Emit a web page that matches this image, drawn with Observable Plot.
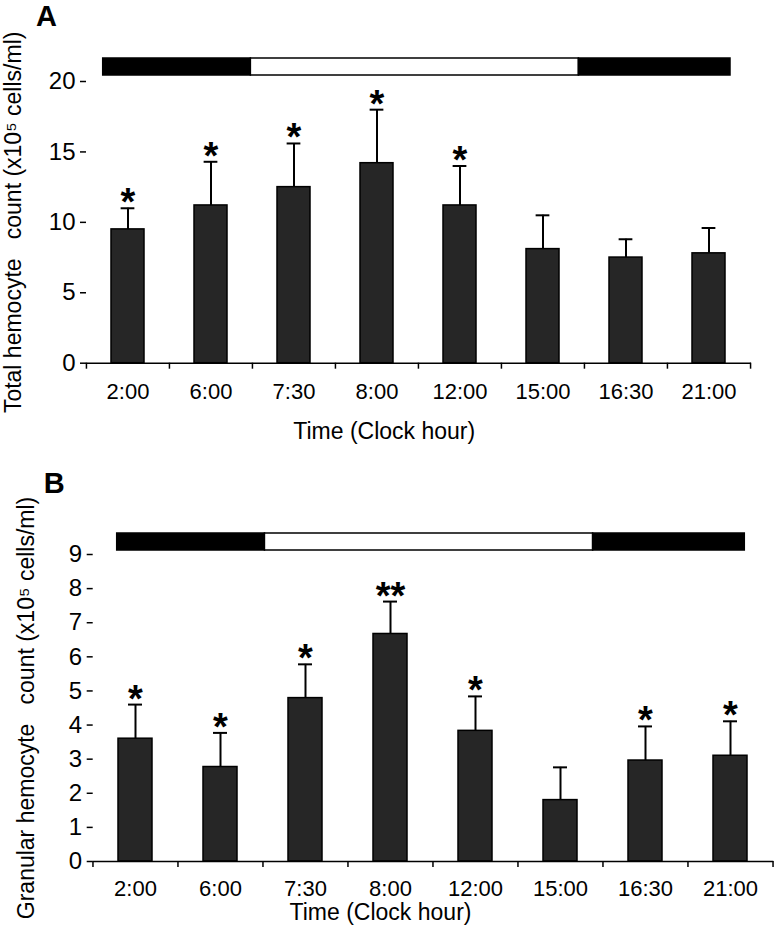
<!DOCTYPE html>
<html><head><meta charset="utf-8">
<script src="https://cdn.jsdelivr.net/npm/d3@7"></script>
<script src="https://cdn.jsdelivr.net/npm/@observablehq/plot@0.6"></script>
<style>
body{margin:0;background:#fff;}
#fig{position:relative;width:774px;height:941px;overflow:hidden;background:#fff;}
#fig > svg{position:absolute;left:0;}
</style></head><body><div id="fig"></div>
<script>
const times = ["2:00","6:00","7:30","8:00","12:00","15:00","16:30","21:00"];
const totalMean  = [9.5, 11.2, 12.5, 14.2, 11.2, 8.1, 7.5, 7.8];
const totalUpper = [11.0, 14.3, 15.6, 18.0, 14.0, 10.5, 8.8, 9.6];
const totalSig   = ["*","*","*","*","*","","",""];
const granMean   = [3.6, 2.77, 4.79, 6.67, 3.83, 1.8, 2.96, 3.1];
const granUpper  = [4.6, 3.77, 5.78, 7.62, 4.84, 2.76, 3.96, 4.11];
const granSig    = ["*","*","*","**","*","","*","*"];
const yTicksTotal = [0,5,10,15,20];
const yTicksGran  = [0,1,2,3,4,5,6,7,8,9];
const photoperiod = [
  {phase:"dark",  start:0,    end:5.65},
  {phase:"light", start:5.65, end:18.2},
  {phase:"dark",  start:18.2, end:24}
];
const xTitle = "Time (Clock hour)";
const yLabelTotal = "Total hemocyte\u00a0\u00a0 count (x10\u2075 cells/ml)";
const yLabelGran  = "Granular hemocyte\u00a0\u00a0 count (x10\u2075 cells/ml)";

const FONT = '"Liberation Sans", Arial, Helvetica, sans-serif';
const W = 774;
const fig = document.getElementById("fig");

function panel(c) {
  const rows = times.map((t, i) => ({time: t, mean: c.mean[i], upper: c.upper[i], sig: c.sig[i]}));
  const step = (W - c.ml - c.mr) / times.length;
  const bw = step * 0.4;
  const capInset = (bw - 14) / 2;
  const p = Plot.plot({
    width: W, height: c.height,
    marginLeft: c.ml, marginRight: c.mr, marginTop: c.mt, marginBottom: c.mb,
    style: {fontFamily: FONT, fontSize: "22px", color: "#000", background: "transparent", overflow: "visible"},
    x: {domain: times, paddingInner: 0.6, paddingOuter: 0.3, align: 0.5, label: null},
    y: {domain: [0, c.yMax], label: null},
    marks: [
      Plot.barY(rows, {x: "time", y: "mean", fill: "#262626", stroke: "#000", strokeWidth: 1.5}),
      Plot.ruleX(rows, {x: "time", y1: "mean", y2: "upper", stroke: "#000", strokeWidth: 2}),
      Plot.tickY(rows, {x: "time", y: "upper", stroke: "#000", strokeWidth: 2, insetLeft: capInset, insetRight: capInset}),
      Plot.ruleY([0], {stroke: "#000", strokeWidth: 1.5}),
      Plot.axisY({ticks: c.yTicks, tickSize: 6, tickPadding: 5, fontSize: 24, line: true, strokeWidth: 1.5, label: null}),
      Plot.axisX({tickSize: 0, tickPadding: c.tickPad, fontSize: 22, label: null}),
      Plot.axisX({tickSize: 6, tickFormat: () => "", dx: -step / 2, label: null, strokeWidth: 1.5}),
      Plot.axisX({ticks: [times[times.length - 1]], tickSize: 6, tickFormat: () => "", dx: step / 2, label: null, strokeWidth: 1.5}),
      Plot.text(rows.filter(d => d.sig), {x: "time", y: "upper", text: "sig", fontSize: 38, fontWeight: "bold", lineAnchor: "bottom", dy: 7}),
      Plot.text([c.yLabel], {frameAnchor: "left", rotate: -90, dx: c.yLabelDx, fontSize: 23, textAnchor: "middle", lineAnchor: "middle"}),
      Plot.text([xTitle], {frameAnchor: "bottom", dx: c.titleDx, dy: c.titleDy, fontSize: 23, textAnchor: "middle", lineAnchor: "middle"}),
      Plot.text([c.letter], {frameAnchor: "top-left", dx: c.letterDx, dy: c.letterDy, fontSize: 29, fontWeight: "bold", lineAnchor: "middle", textAnchor: "middle"})
    ]
  });
  p.style.top = c.top + "px";
  fig.appendChild(p);
}

function photoBar(c) {
  const p = Plot.plot({
    width: W, height: 19, marginTop: 1, marginBottom: 1, marginLeft: c.ml, marginRight: c.mr,
    style: {background: "transparent", overflow: "visible"},
    x: {domain: [0, 24], axis: null},
    color: {domain: ["dark", "light"], range: ["#000", "#fff"]},
    marks: [
      Plot.rectX(photoperiod, {x1: "start", x2: "end", fill: "phase", stroke: "#000", strokeWidth: 1.5})
    ]
  });
  p.style.top = c.top + "px";
  fig.appendChild(p);
}

panel({top: 0, height: 460, ml: 86, mr: 23, mt: 81, mb: 97.3, yMax: 20, yTicks: yTicksTotal,
  mean: totalMean, upper: totalUpper, sig: totalSig, yLabel: yLabelTotal, letter: "A",
  letterDx: -40, letterDy: -65, yLabelDx: -73, titleDx: -34.8, titleDy: 68.3, tickPad: 20});
panel({top: 460, height: 481, ml: 92.7, mr: 0.7, mt: 94, mb: 80, yMax: 9, yTicks: yTicksGran,
  mean: granMean, upper: granUpper, sig: granSig, yLabel: yLabelGran, letter: "B",
  letterDx: -39, letterDy: -71, yLabelDx: -66.7, titleDx: -53, titleDy: 51, tickPad: 19});
photoBar({top: 57, ml: 102.7, mr: 44});
photoBar({top: 532, ml: 116.7, mr: 29.7});
</script>
</body></html>
